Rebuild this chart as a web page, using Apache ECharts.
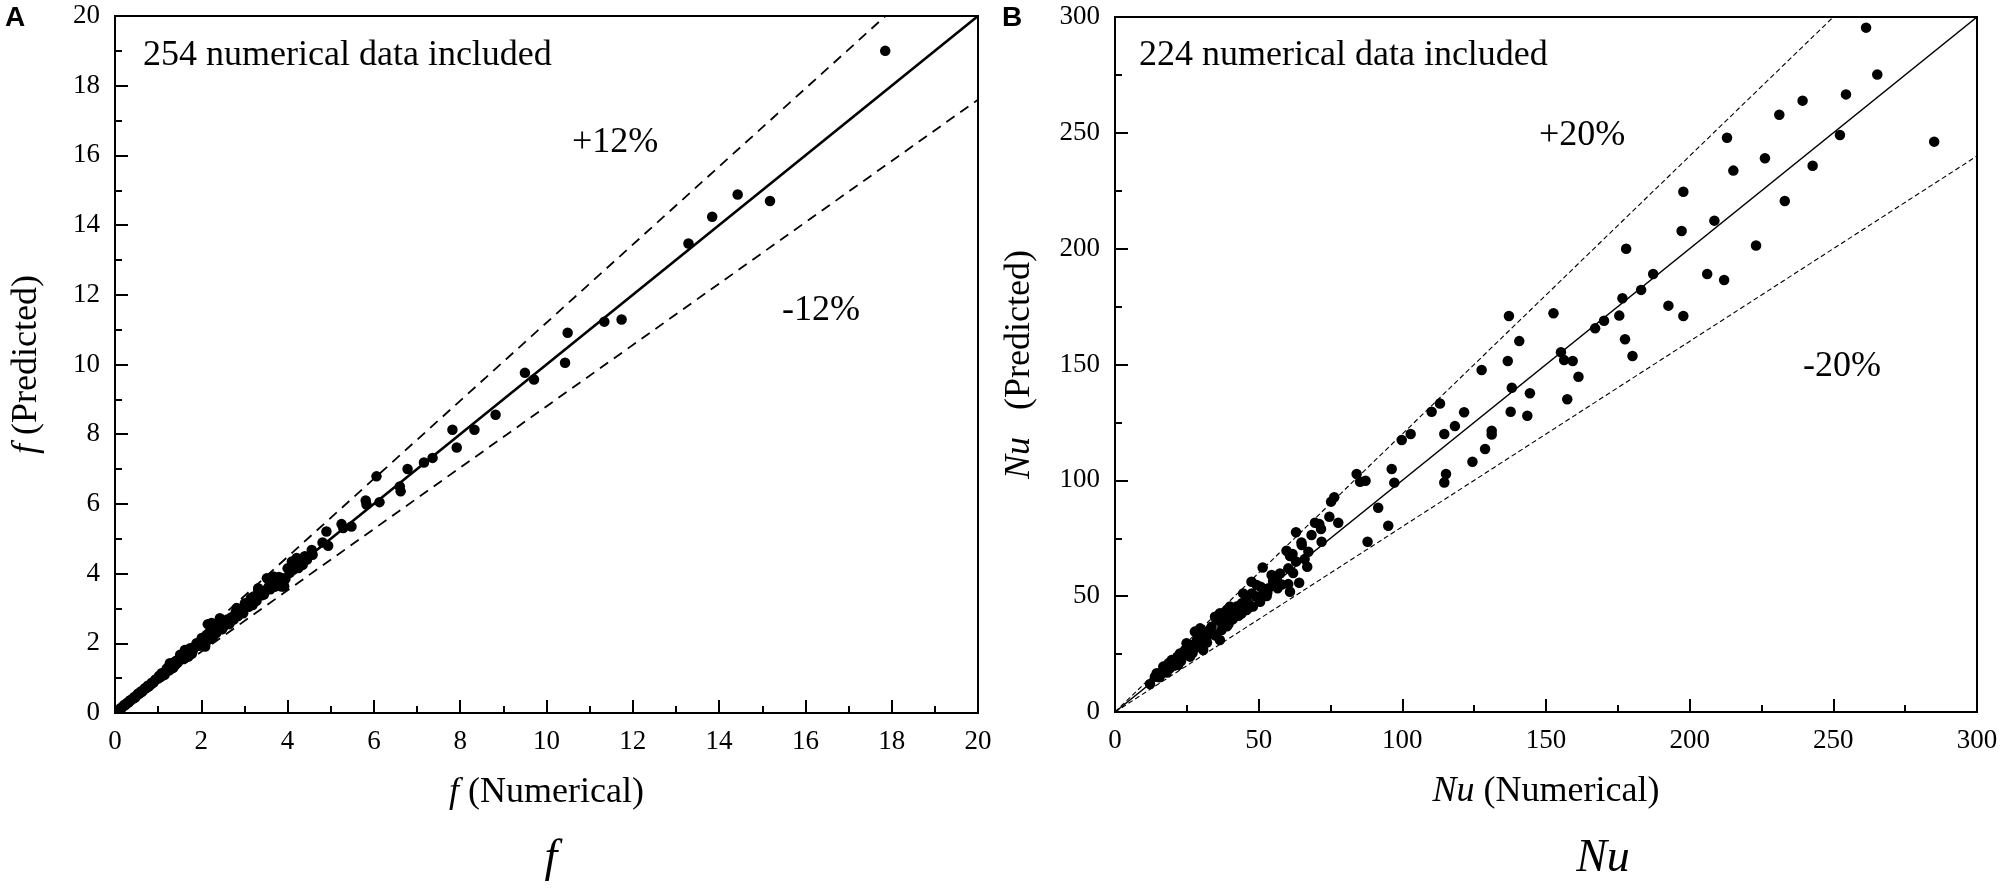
<!DOCTYPE html>
<html><head><meta charset="utf-8">
<script src="https://cdn.jsdelivr.net/npm/echarts@6/dist/echarts.min.js"></script>
<style>html,body{margin:0;padding:0;background:#fff}#c{width:2001px;height:888px}</style>
</head><body><div id="c"></div><script>
// ---- Panel A: friction factor f ----
const fNumerical = [17.85,15.18,14.43,13.84,13.29,11.74,11.34,10.49,10.43,9.50,9.71,8.82,7.82,8.33,7.92,7.36,7.16,6.78,6.60,6.62,6.06,5.81,5.83,6.13,5.48,5.25,5.29,4.90,4.94,4.81,4.56,4.58,4.21,4.17,4.25,4.13,3.89,3.92,3.67,3.56,3.48,3.32,3.21,3.19,3.01,2.97,2.82,2.67,2.59,2.43,2.24,2.32,2.12,2.01,2.09,1.89,1.74,1.62,1.70,1.51,1.39,1.27,1.20,1.08,2.15,3.52,3.90,3.86,3.32,0.12,0.16,0.20,0.24,0.28,0.32,0.36,0.40,0.44,0.48,0.52,0.56,0.60,0.64,0.68,0.72,0.76,0.80,0.85,0.90,0.95,1.00,1.05,1.12,1.15,1.25,1.32,1.35,1.45,1.50,1.58,1.65,1.80,1.85,1.95,2.05,2.20,2.28,2.38,2.50,2.55,2.70,2.75,2.90,3.05,3.12,3.40,3.60,3.75,4.05,4.10,4.30,4.35,0.15,0.22,0.30,0.34,0.46,0.54,0.62,0.70,0.78,0.87,0.93,1.02,1.08,1.18,1.22,1.30,1.40,1.42,1.55,1.62,1.72,1.78,1.90,1.98,2.10,2.18,2.25,2.35,2.42,2.48,2.60,2.65,2.80,2.85,2.95,3.10,3.15,3.28,3.35,3.45,3.55,3.70,3.80,3.95,4.00,4.20,4.40,4.45];
const fPredicted = [19.00,14.69,14.88,14.24,13.47,11.29,11.23,10.91,10.05,9.76,9.57,8.56,8.13,8.13,7.62,7.32,7.19,7.00,6.50,6.36,6.79,6.10,5.98,6.05,5.35,5.42,5.31,5.21,4.80,4.89,4.68,4.54,4.45,4.30,4.16,4.11,3.87,3.63,3.92,3.82,3.49,3.58,3.34,3.10,3.15,2.86,3.01,2.67,2.58,2.72,2.58,2.34,2.24,2.15,1.91,2.00,1.86,1.81,1.62,1.67,1.47,1.43,1.28,1.14,2.55,3.87,3.73,3.63,3.53,0.13,0.16,0.21,0.23,0.29,0.31,0.37,0.39,0.45,0.47,0.53,0.55,0.62,0.63,0.69,0.71,0.78,0.79,0.87,0.89,0.97,0.99,1.03,1.15,1.10,1.22,1.35,1.30,1.44,1.52,1.55,1.70,1.78,1.90,1.93,2.02,2.12,2.20,2.42,2.45,2.60,2.75,2.68,2.92,3.05,3.20,3.38,3.55,3.72,4.02,4.35,4.42,4.25,0.14,0.24,0.30,0.35,0.44,0.56,0.60,0.72,0.76,0.85,0.95,1.06,1.05,1.20,1.26,1.27,1.38,1.50,1.60,1.58,1.75,1.70,1.95,2.05,2.02,2.30,2.28,2.30,2.50,2.40,2.68,2.55,2.90,2.78,3.00,3.05,3.30,3.22,3.45,3.40,3.60,3.62,3.90,3.85,4.15,4.25,4.50,4.40];
const fPerfect = [[0,0],[20,20]];
const fUpper12 = [[0,0],[17.857,20]];   // +12 %
const fLower12 = [[0,0],[20,17.6]];     // -12 %
const fTicks = [0,2,4,6,8,10,12,14,16,18,20];

// ---- Panel B: Nusselt number Nu ----
const nuNumerical = [261.4,265.3,254.4,239.3,231.2,213.0,252.3,285.1,226.2,215.2,242.8,197.8,233.1,208.6,197.2,223.1,177.9,187.3,206.1,212.0,183.1,176.6,192.6,197.8,175.5,170.2,167.1,137.1,152.6,140.7,177.5,180.1,155.2,156.3,159.3,161.3,136.7,127.6,138.1,144.4,157.4,137.7,143.5,113.1,110.2,121.5,118.3,114.6,131.1,131.1,102.9,99.8,128.8,124.4,115.2,114.6,96.3,97.2,84.1,85.3,87.2,91.6,95.1,87.9,76.3,75.2,74.6,77.7,69.6,71.1,68.4,71.7,71.9,63.0,64.9,65.0,67.3,59.7,60.9,61.8,66.9,64.1,60.3,60.3,60.9,51.4,54.5,57.4,56.3,56.6,53.4,47.5,49.3,50.7,51.6,52.8,50.5,47.6,44.6,45.8,44.1,45.8,42.3,41.2,40.0,38.9,38.3,36.5,35.4,34.8,37.1,36.5,33.6,31.9,29.6,29.0,27.8,30.7,29.6,26.7,24.9,24.4,26.1,22.6,21.7,22.0,19.7,18.6,19.1,16.8,16.3,14.5,13.9,12.2,39.5,43.0,46.5,33.0,28.5,31.0,25.5,20.5,17.5,15.5,18.0,21.0,23.0,25.0,27.0,28.5,30.0,32.0,33.0,35.0,37.0,39.0,41.0,42.0,44.0,46.0,48.0,49.0,53.0,55.0,58.0,62.0,63.0,66.0];
const nuPredicted = [295.4,275.2,266.6,263.9,257.8,247.9,249.1,246.2,239.0,233.7,235.8,224.6,220.6,212.1,207.6,201.4,200.0,189.1,189.1,186.5,182.2,178.6,175.4,170.9,171.1,168.9,165.6,170.9,172.1,160.1,160.9,153.7,155.3,151.9,151.5,144.7,151.5,147.6,140.0,137.6,135.0,129.6,127.9,133.2,129.6,129.4,123.4,120.0,121.4,119.8,120.0,117.4,113.5,108.0,102.7,99.1,104.9,99.0,102.7,99.4,99.8,88.2,80.4,73.5,92.7,90.8,84.3,81.7,81.7,81.1,76.4,79.0,73.5,77.6,73.2,72.1,69.2,69.6,67.3,68.2,62.7,55.8,62.0,55.2,51.9,62.4,59.1,59.8,57.2,53.4,53.4,56.2,54.8,54.1,51.2,50.1,47.6,51.2,51.2,48.3,46.9,44.0,45.5,42.6,45.5,44.0,40.4,42.6,39.7,41.1,35.4,31.1,36.8,34.7,36.1,32.5,34.7,26.8,29.7,28.9,29.7,26.8,23.9,25.3,23.9,20.3,22.4,21.0,18.9,19.6,17.4,16.7,15.2,12.1,38.0,41.5,45.0,33.5,28.0,31.5,25.0,20.0,18.0,15.0,17.0,20.5,22.0,27.0,25.5,31.0,28.5,30.0,35.5,33.0,38.5,37.0,40.0,44.0,42.5,47.0,45.5,50.0,51.5,56.5,55.0,60.0,65.0,66.0];
const nuPerfect = [[0,0],[300,300]];
const nuUpper20 = [[0,0],[250,300]];    // +20 %
const nuLower20 = [[0,0],[300,240]];    // -20 %
const nuTicks = [0,50,100,150,200,250,300];

const zip = (a, b) => a.map((v, i) => [v, b[i]]);
const SERIF = '"Liberation Serif", "Times New Roman", serif';

function axis(gridIndex, ticks, name, nameGap) {
  const interval = ticks[1] - ticks[0];
  return {
    type: 'value', gridIndex: gridIndex,
    min: ticks[0], max: ticks[ticks.length - 1], interval: interval,
    name: name, nameLocation: 'middle', nameGap: nameGap,
    nameTextStyle: {fontFamily: SERIF, fontSize: 36, color: '#000',
      rich: {i: {fontFamily: SERIF, fontSize: 36, fontStyle: 'italic', color: '#000'}}},
    axisLine: {show: true, onZero: false, lineStyle: {color: '#000', width: 2}},
    axisTick: {show: true, inside: true, length: 13, lineStyle: {color: '#000', width: 2}},
    minorTick: {show: true, splitNumber: 2, length: 7, lineStyle: {color: '#000', width: 2}},
    splitLine: {show: false},
    axisLabel: {show: true, margin: 15, fontFamily: SERIF, fontSize: 27, color: '#000',
      showMinLabel: true, showMaxLabel: true}
  };
}

function note(text, x, y, size, italic, align) {
  return {type: 'text', x: x, y: y, style: {
    text: text, fontFamily: SERIF, fontSize: size, fontStyle: italic ? 'italic' : 'normal',
    fill: '#000', textAlign: align || 'left', textVerticalAlign: 'middle'}};
}

const chart = echarts.init(document.getElementById('c'), null, {renderer: 'canvas'});
chart.setOption({
  animation: false,
  backgroundColor: '#fff',
  textStyle: {fontFamily: SERIF},
  grid: [
    {left: 115, top: 16, width: 863, height: 697, show: true, borderColor: '#000', borderWidth: 2, backgroundColor: 'transparent'},
    {left: 1115, top: 17, width: 862, height: 695, show: true, borderColor: '#000', borderWidth: 2, backgroundColor: 'transparent'}
  ],
  xAxis: [
    axis(0, fTicks, '{i|f} (Numerical)', 62),
    axis(1, nuTicks, '{i|Nu} (Numerical)', 62)
  ],
  yAxis: [
    axis(0, fTicks, '{i|f} (Predicted)', 70),
    axis(1, nuTicks, '{i|Nu}   (Predicted)', 77)
  ],
  series: [
    {type: 'line', xAxisIndex: 0, yAxisIndex: 0, data: fPerfect, symbol: 'none', silent: true,
      lineStyle: {color: '#000', width: 2.6}},
    {type: 'line', xAxisIndex: 0, yAxisIndex: 0, data: fUpper12, symbol: 'none', silent: true,
      lineStyle: {color: '#000', width: 1.8, type: [10, 7]}},
    {type: 'line', xAxisIndex: 0, yAxisIndex: 0, data: fLower12, symbol: 'none', silent: true,
      lineStyle: {color: '#000', width: 1.8, type: [10, 7]}},
    {type: 'scatter', xAxisIndex: 0, yAxisIndex: 0, data: zip(fNumerical, fPredicted),
      symbol: 'circle', symbolSize: 10.5, itemStyle: {color: '#000', opacity: 1}},
    {type: 'line', xAxisIndex: 1, yAxisIndex: 1, data: nuPerfect, symbol: 'none', silent: true,
      lineStyle: {color: '#000', width: 1.6}},
    {type: 'line', xAxisIndex: 1, yAxisIndex: 1, data: nuUpper20, symbol: 'none', silent: true,
      lineStyle: {color: '#000', width: 1.1, type: [5, 3]}},
    {type: 'line', xAxisIndex: 1, yAxisIndex: 1, data: nuLower20, symbol: 'none', silent: true,
      lineStyle: {color: '#000', width: 1.1, type: [5, 3]}},
    {type: 'scatter', xAxisIndex: 1, yAxisIndex: 1, data: zip(nuNumerical, nuPredicted),
      symbol: 'circle', symbolSize: 10.5, itemStyle: {color: '#000', opacity: 1}}
  ],
  graphic: [
    {type: 'text', x: 15, y: 18, style: {text: 'A', fontFamily: '"Liberation Sans", Arial, sans-serif', fontWeight: 'bold', fontSize: 28, fill: '#000', textAlign: 'center', textVerticalAlign: 'middle'}},
    {type: 'text', x: 1012, y: 18, style: {text: 'B', fontFamily: '"Liberation Sans", Arial, sans-serif', fontWeight: 'bold', fontSize: 28, fill: '#000', textAlign: 'center', textVerticalAlign: 'middle'}},
    note('254 numerical data included', 143, 56, 36),
    note('+12%', 572, 143, 36),
    note('-12%', 782, 311, 36),
    note('224 numerical data included', 1139, 56, 36),
    note('+20%', 1539, 136, 36),
    note('-20%', 1803, 367, 36),
    note('f', 551, 859, 46, true, 'center'),
    note('Nu', 1603, 859, 46, true, 'center')
  ]
});
</script></body></html>
